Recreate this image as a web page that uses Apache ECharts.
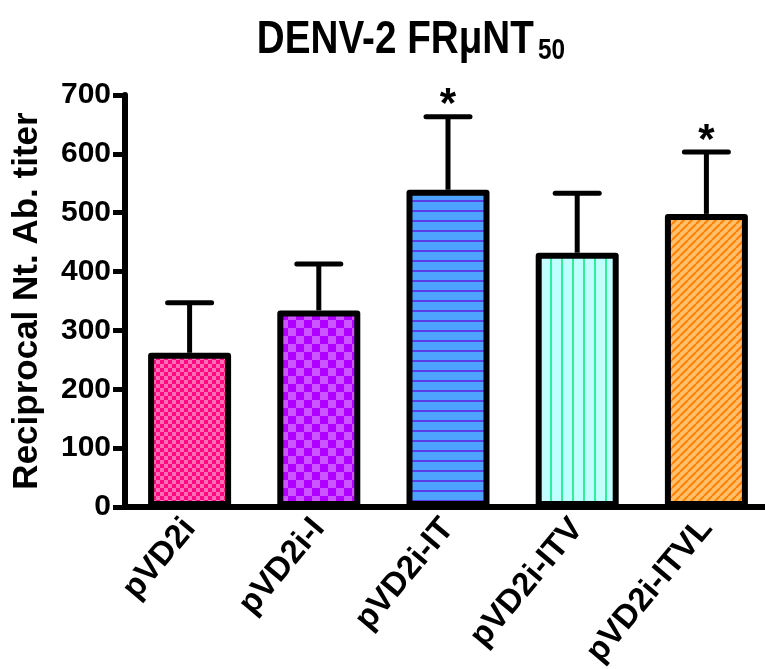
<!DOCTYPE html>
<html>
<head>
<meta charset="utf-8">
<script src="https://cdn.jsdelivr.net/npm/echarts@6/dist/echarts.min.js"></script>
<style>
  html, body { margin: 0; padding: 0; background: #fff; }
  #chart { width: 765px; height: 669px; }
</style>
</head>
<body>
<div id="chart"></div>
<script>
// data
const categories = ['pVD2i', 'pVD2i-I', 'pVD2i-IT', 'pVD2i-ITV', 'pVD2i-ITVL'];
const means = [262, 334, 539, 432, 498];
const errors = [85, 79, 124, 101, 105];
const marks = ['', '', '*', '', '*'];

const FONT = '"Liberation Sans", Arial, sans-serif';

// fill patterns, one per bar
const makeCanvas = (w, h) => {
  const c = document.createElement('canvas');
  c.width = w;
  c.height = h;
  return c;
};

const checker = (c1, c2, s) => {
  const c = makeCanvas(s * 2, s * 2);
  const ctx = c.getContext('2d');
  ctx.fillStyle = c1;
  ctx.fillRect(0, 0, s * 2, s * 2);
  ctx.fillStyle = c2;
  ctx.fillRect(0, 0, s, s);
  ctx.fillRect(s, s, s, s);
  return c;
};

const hStripes = (bg, fg, p, t) => {
  const c = makeCanvas(4, p);
  const ctx = c.getContext('2d');
  ctx.fillStyle = bg;
  ctx.fillRect(0, 0, 4, p);
  ctx.fillStyle = fg;
  ctx.fillRect(0, 0, 4, t);
  return c;
};

const vStripes = (bg, fg, p, t) => {
  const c = makeCanvas(p, 4);
  const ctx = c.getContext('2d');
  ctx.fillStyle = bg;
  ctx.fillRect(0, 0, p, 4);
  ctx.fillStyle = fg;
  ctx.fillRect(0, 0, t, 4);
  return c;
};

const diagStripes = (bg, fg, p, t) => {
  const c = makeCanvas(p, p);
  const ctx = c.getContext('2d');
  ctx.fillStyle = bg;
  ctx.fillRect(0, 0, p, p);
  ctx.strokeStyle = fg;
  ctx.lineWidth = t;
  [-p, 0, p].forEach(o => {
    ctx.beginPath();
    ctx.moveTo(o, p);
    ctx.lineTo(o + p, 0);
    ctx.stroke();
  });
  return c;
};

const patterns = [
  checker('#ff6eb4', '#ff0a82', 4),
  checker('#cc55ff', '#b000ff', 8),
  hStripes('#4da3ff', '#5a3ce8', 10, 2),
  vStripes('#c0ffff', '#33ee99', 11, 2),
  diagStripes('#ffc06a', '#ff8000', 8, 2)
];

const chart = echarts.init(document.getElementById('chart'), null, { renderer: 'canvas' });

const option = {
  backgroundColor: '#fff',
  animation: false,
  graphic: [{
    // title, squeezed horizontally like the original
    type: 'text',
    x: 411,
    y: 40,
    scaleX: 0.84,
    style: {
      text: '{a|DENV-2 FRμNT}{b|50}',
      align: 'center',
      verticalAlign: 'middle',
      rich: {
        a: {
          fontFamily: FONT,
          fontWeight: 'bold',
          fontSize: 46,
          fill: '#000',
          lineHeight: 50
        },
        b: {
          fontFamily: FONT,
          fontWeight: 'bold',
          fontSize: 29,
          fill: '#000',
          lineHeight: 10,
          verticalAlign: 'bottom',
          padding: [0, 0, 0, 5]
        }
      }
    }
  }],
  grid: {
    left: 125,
    right: -6,
    top: 95,
    bottom: 162,
    containLabel: false,
    outerBoundsMode: 'none'
  },
  xAxis: {
    type: 'category',
    data: categories,
    axisLine: { lineStyle: { color: '#000', width: 6 } },
    axisTick: { alignWithLabel: true, length: 13, lineStyle: { color: '#000', width: 5 } },
    axisLabel: {
      interval: 0,
      rotate: 50,
      margin: 16,
      color: '#000',
      fontFamily: FONT,
      fontWeight: 'bold',
      fontSize: 33
    },
    splitLine: { show: false }
  },
  yAxis: {
    type: 'value',
    min: 0,
    max: 700,
    interval: 100,
    name: 'Reciprocal Nt. Ab. titer',
    nameLocation: 'middle',
    nameRotate: 90,
    nameGap: 80,
    nameTextStyle: {
      color: '#000',
      fontFamily: FONT,
      fontWeight: 'bold',
      fontSize: 35
    },
    axisLine: { show: true, lineStyle: { color: '#000', width: 6 } },
    axisTick: { show: true, length: 12, lineStyle: { color: '#000', width: 5 } },
    axisLabel: {
      margin: 14,
      color: '#000',
      fontFamily: FONT,
      fontWeight: 'bold',
      fontSize: 30
    },
    splitLine: { show: false }
  },
  series: [
    {
      // error bars (upper only) and significance marks
      type: 'custom',
      z: 1,
      data: means.map((m, i) => [i, m, errors[i]]),
      encode: { x: 0, y: 1 },
      renderItem: function (params, api) {
        const i = api.value(0);
        const m = api.value(1);
        const e = api.value(2);
        const base = api.coord([i, m]);
        const top = api.coord([i, m + e]);
        const half = 22;
        const children = [
          { type: 'line', shape: { x1: base[0], y1: base[1], x2: top[0], y2: top[1] }, style: { stroke: '#000', lineWidth: 5 } },
          { type: 'line', shape: { x1: top[0] - half, y1: top[1], x2: top[0] + half, y2: top[1] }, style: { stroke: '#000', lineWidth: 5, lineCap: 'round' } }
        ];
        const mark = marks[params.dataIndex];
        if (mark) {
          children.push({
            type: 'text',
            style: {
              text: mark,
              x: top[0],
              y: top[1] + 10,
              align: 'center',
              verticalAlign: 'bottom',
              fontFamily: FONT,
              fontWeight: 'bold',
              fontSize: 42,
              fill: '#000'
            }
          });
        }
        return { type: 'group', children: children };
      }
    },
    {
      type: 'bar',
      z: 2,
      barWidth: 83,
      data: means.map((v, i) => ({
        value: v,
        itemStyle: { color: { image: patterns[i], repeat: 'repeat' } }
      })),
      itemStyle: {
        borderColor: '#000',
        borderWidth: 6,
        borderJoin: 'round'
      }
    }
  ]
};

chart.setOption(option);
</script>
</body>
</html>
